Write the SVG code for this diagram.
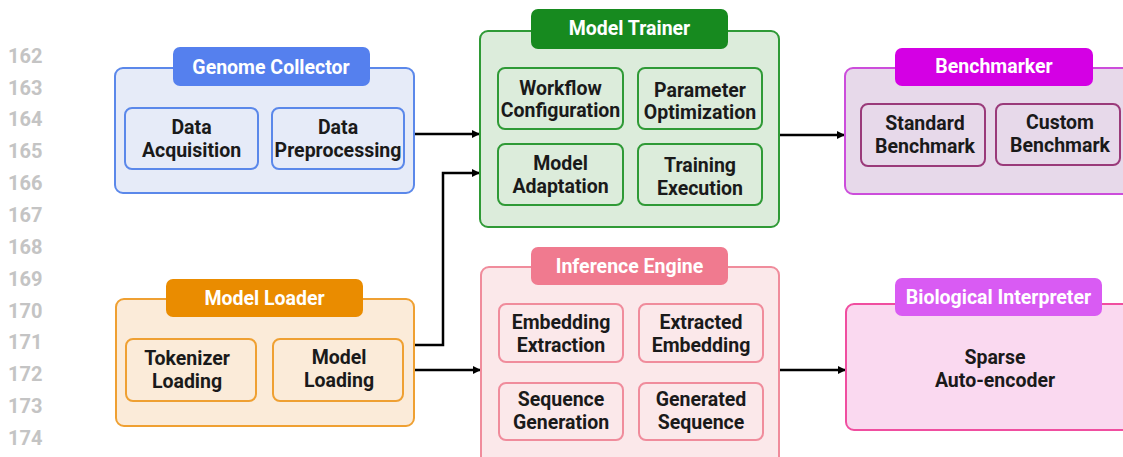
<svg xmlns="http://www.w3.org/2000/svg" width="1123" height="457" viewBox="0 0 1123 457">
  <style>
    text { font-family: Roboto, "Liberation Sans", sans-serif; font-weight: bold; text-anchor: middle; }
    .ln { fill: #c4c4c4; font-size: 20px; text-anchor: start; }
    .hd { fill: #ffffff; font-size: 19.5px; }
    .lb { fill: #1a1a1a; font-size: 19.5px; }
    .wire { fill: none; stroke: #000; stroke-width: 2.5; }
    .blue .outer { fill: #e6ebf8; stroke: #5b88ea; }
    .blue .head { fill: #5580ee; }
    .blue .item { fill: #e6ebf8; stroke: #5b88ea; }
    .green .outer { fill: #dcecdb; stroke: #2f9a36; }
    .green .head { fill: #178a1f; }
    .green .item { fill: #dcecdb; stroke: #2f9a36; }
    .mag .outer { fill: #e7d9ea; stroke: #cc4ddb; }
    .mag .head { fill: #d400e4; }
    .mag .item { fill: #e7d9ea; stroke: #9a3a7a; }
    .orange .outer { fill: #fbebd9; stroke: #efa032; }
    .orange .head { fill: #ea8c00; }
    .orange .item { fill: #fbebd9; stroke: #efa032; }
    .pink .outer { fill: #fbe8ea; stroke: #f08c9c; }
    .pink .head { fill: #f07a8f; }
    .pink .item { fill: #fbe8ea; stroke: #f08c9c; }
    .violet .outer { fill: #fad9f0; stroke: #f04ea0; }
    .violet .head { fill: #d95bf3; }
    .outer { stroke-width: 2; }
    .item { stroke-width: 2; }
  </style>
  <defs>
    <marker id="arrow" markerWidth="8" markerHeight="8" refX="7" refY="4" orient="auto" markerUnits="userSpaceOnUse">
      <path d="M0,0 L8,4 L0,8 Z" fill="#000"/>
    </marker>
  </defs>

  <!-- line numbers -->
  <g id="line-numbers">
    <text class="ln" x="8" y="63">162</text>
    <text class="ln" x="8" y="95">163</text>
    <text class="ln" x="8" y="126">164</text>
    <text class="ln" x="8" y="158">165</text>
    <text class="ln" x="8" y="190">166</text>
    <text class="ln" x="8" y="222">167</text>
    <text class="ln" x="8" y="254">168</text>
    <text class="ln" x="8" y="286">169</text>
    <text class="ln" x="8" y="318">170</text>
    <text class="ln" x="8" y="349">171</text>
    <text class="ln" x="8" y="381">172</text>
    <text class="ln" x="8" y="413">173</text>
    <text class="ln" x="8" y="445">174</text>
  </g>

  <!-- connectors -->
  <g id="connectors">
    <line class="wire" x1="414" y1="134" x2="479" y2="134" marker-end="url(#arrow)"/>
    <polyline class="wire" points="414,345 443,345 443,173 479,173" marker-end="url(#arrow)"/>
    <line class="wire" x1="414" y1="370" x2="480" y2="370" marker-end="url(#arrow)"/>
    <line class="wire" x1="779" y1="135" x2="844" y2="135" marker-end="url(#arrow)"/>
    <line class="wire" x1="779" y1="370" x2="845" y2="370" marker-end="url(#arrow)"/>
    <line class="wire" x1="623" y1="338" x2="638" y2="338" marker-end="url(#arrow)"/>
    <line class="wire" x1="623" y1="412" x2="638" y2="412" marker-end="url(#arrow)"/>
  </g>

  <!-- Genome Collector -->
  <g id="genome-collector" class="blue">
    <rect class="outer" x="115" y="68" width="299" height="125" rx="8"/>
    <rect class="head" x="173" y="47" width="197" height="39" rx="7"/>
    <text class="hd" x="271" y="74">Genome Collector</text>
    <rect class="item" x="125" y="108" width="133" height="61" rx="7"/>
    <text class="lb" x="191.5" y="134">Data</text>
    <text class="lb" x="191.5" y="157">Acquisition</text>
    <rect class="item" x="272" y="108" width="132" height="61" rx="7"/>
    <text class="lb" x="338" y="134">Data</text>
    <text class="lb" x="338" y="157">Preprocessing</text>
  </g>

  <!-- Model Trainer -->
  <g id="model-trainer" class="green">
    <rect class="outer" x="480" y="31" width="299" height="196" rx="8"/>
    <rect class="head" x="531" y="9" width="197" height="40" rx="7"/>
    <text class="hd" x="629.5" y="35">Model Trainer</text>
    <rect class="item" x="498" y="68" width="125" height="61" rx="7"/>
    <text class="lb" x="560.5" y="95">Workflow</text>
    <text class="lb" x="560.5" y="117">Configuration</text>
    <rect class="item" x="638" y="68" width="124" height="61" rx="7"/>
    <text class="lb" x="700" y="97">Parameter</text>
    <text class="lb" x="700" y="119">Optimization</text>
    <rect class="item" x="498" y="144" width="125" height="61" rx="7"/>
    <text class="lb" x="560.5" y="170">Model</text>
    <text class="lb" x="560.5" y="193">Adaptation</text>
    <rect class="item" x="638" y="144" width="124" height="61" rx="7"/>
    <text class="lb" x="700" y="172">Training</text>
    <text class="lb" x="700" y="195">Execution</text>
  </g>

  <!-- Benchmarker -->
  <g id="benchmarker" class="mag">
    <rect class="outer" x="845" y="68" width="299" height="126" rx="8"/>
    <rect class="head" x="895" y="48" width="198" height="38" rx="7"/>
    <text class="hd" x="994" y="73">Benchmarker</text>
    <rect class="item" x="861" y="104" width="124" height="62" rx="7"/>
    <text class="lb" x="925" y="130">Standard</text>
    <text class="lb" x="925" y="153">Benchmark</text>
    <rect class="item" x="996" y="104" width="124" height="61" rx="7"/>
    <text class="lb" x="1060" y="129">Custom</text>
    <text class="lb" x="1060" y="152">Benchmark</text>
  </g>

  <!-- Model Loader -->
  <g id="model-loader" class="orange">
    <rect class="outer" x="116" y="299" width="298" height="127" rx="8"/>
    <rect class="head" x="166" y="279" width="197" height="38" rx="7"/>
    <text class="hd" x="264.5" y="305">Model Loader</text>
    <rect class="item" x="126" y="339" width="130" height="62" rx="7"/>
    <text class="lb" x="187" y="365">Tokenizer</text>
    <text class="lb" x="187" y="388">Loading</text>
    <rect class="item" x="273" y="339" width="130" height="62" rx="7"/>
    <text class="lb" x="339" y="364">Model</text>
    <text class="lb" x="339" y="387">Loading</text>
  </g>

  <!-- Inference Engine -->
  <g id="inference-engine" class="pink">
    <rect class="outer" x="481" y="267" width="298" height="200" rx="8"/>
    <rect class="head" x="531" y="247" width="197" height="38" rx="7"/>
    <text class="hd" x="629.5" y="273">Inference Engine</text>
    <rect class="item" x="499" y="304" width="124" height="58" rx="7"/>
    <text class="lb" x="561" y="329">Embedding</text>
    <text class="lb" x="561" y="352">Extraction</text>
    <rect class="item" x="639" y="304" width="124" height="58" rx="7"/>
    <text class="lb" x="701" y="329">Extracted</text>
    <text class="lb" x="701" y="352">Embedding</text>
    <rect class="item" x="499" y="383" width="124" height="57" rx="7"/>
    <text class="lb" x="561" y="406">Sequence</text>
    <text class="lb" x="561" y="429">Generation</text>
    <rect class="item" x="639" y="383" width="124" height="57" rx="7"/>
    <text class="lb" x="701" y="406">Generated</text>
    <text class="lb" x="701" y="429">Sequence</text>
  </g>

  <!-- Biological Interpreter -->
  <g id="biological-interpreter" class="violet">
    <rect class="outer" x="846" y="304" width="299" height="126" rx="8"/>
    <rect class="head" x="895" y="278" width="207" height="38" rx="7"/>
    <text class="hd" x="998.5" y="304">Biological Interpreter</text>
    <text class="lb" x="995" y="364">Sparse</text>
    <text class="lb" x="995" y="387">Auto-encoder</text>
  </g>
</svg>
